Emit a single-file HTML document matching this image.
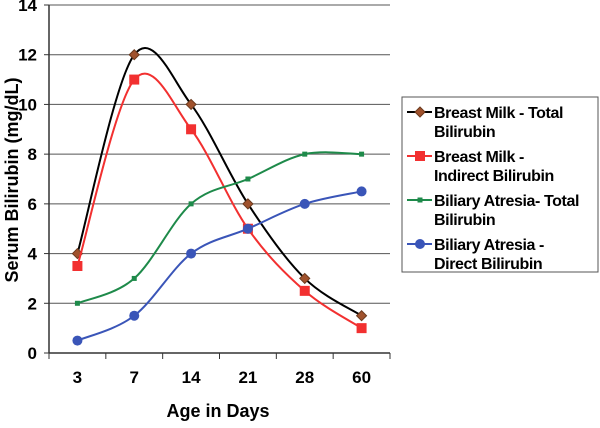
<!DOCTYPE html>
<html><head><meta charset="utf-8"><style>
body{margin:0;background:#fff;}
svg text{font-family:"Liberation Sans",Arial,sans-serif;font-weight:bold;}
</style></head><body>
<svg id="chart" width="600" height="423" viewBox="0 0 600 423"></svg>
<script>
const categories=["3","7","14","21","28","60"];
const bmTotal=[4,12,10,6,3,1.5];
const bmIndirect=[3.5,11,9,5,2.5,1];
const baTotal=[2,3,6,7,8,8];
const baDirect=[0.5,1.5,4,5,6,6.5];
const yTicks=[0,2,4,6,8,10,12,14];

const NS="http://www.w3.org/2000/svg";
const svg=document.getElementById('chart');
const L=49,R=390,T=5,B=353,yMax=14;
const step=(R-L)/categories.length;
const xs=i=>L+step*(i+0.5);
const ys=v=>B-(v/yMax)*(B-T);
function el(tag,attrs,parent){const e=document.createElementNS(NS,tag);for(const k in attrs)e.setAttribute(k,attrs[k]);(parent||svg).appendChild(e);return e;}

yTicks.forEach(v=>{
  if(v>0){const g=el('line',{x1:L,x2:R,y1:ys(v),y2:ys(v),stroke:'#555','stroke-width':1});
  
  }
  const tk=el('line',{x1:L-5,x2:L,y1:ys(v),y2:ys(v),stroke:'#333'});
  
  
  const t=el('text',{x:L-12,y:ys(v)+6,'text-anchor':'end','font-size':17});t.textContent=v;
  
  
});
const ya=el('line',{x1:L,x2:L,y1:T,y2:B,stroke:'#333','stroke-width':1.5});


const xa=el('line',{x1:L,x2:R,y1:B,y2:B,stroke:'#333','stroke-width':1.5});


for(let i=0;i<=categories.length;i++){const x=L+step*i;const tk=el('line',{x1:x,x2:x,y1:B,y2:B+6,stroke:'#333'});

}
categories.forEach((c,i)=>{const t=el('text',{x:xs(i),y:B+30,'text-anchor':'middle','font-size':17});t.textContent=c;

});
const xt=el('text',{x:218,y:417,'text-anchor':'middle','font-size':18});xt.textContent='Age in Days';


const yt=el('text',{x:0,y:0,'text-anchor':'middle','font-size':18,transform:'translate(18,180) rotate(-90)'});yt.textContent='Serum Bilirubin (mg/dL)';



function smooth(pts){let d=`M${pts[0][0]},${pts[0][1]}`;
  for(let i=0;i<pts.length-1;i++){const p0=pts[i-1]||pts[i],p1=pts[i],p2=pts[i+1],p3=pts[i+2]||p2;
    const c1=[p1[0]+(p2[0]-p0[0])/6,p1[1]+(p2[1]-p0[1])/6],c2=[p2[0]-(p3[0]-p1[0])/6,p2[1]-(p3[1]-p1[1])/6];
    d+=` C${c1[0]},${c1[1]} ${c2[0]},${c2[1]} ${p2[0]},${p2[1]}`;}
  return d;}
function marker(g,type,x,y,color){
  if(type==='diamond')return el('path',{d:`M${x},${y-5}L${x+5},${y}L${x},${y+5}L${x-5},${y}Z`,fill:'#a0522d',stroke:'#6b3a1e'},g);
  if(type==='square')return el('rect',{x:x-5,y:y-5,width:10,height:10,fill:color},g);
  if(type==='small')return el('rect',{x:x-2.5,y:y-2.5,width:5,height:5,fill:color},g);
  return el('circle',{cx:x,cy:y,r:5,fill:color},g);}
const series=[
 {name:'breast-milk-total',data:bmTotal,color:'#000',m:'diamond',label:['Breast Milk - Total','Bilirubin']},
 {name:'breast-milk-indirect',data:bmIndirect,color:'#f23030',m:'square',label:['Breast Milk -','Indirect Bilirubin']},
 {name:'biliary-atresia-total',data:baTotal,color:'#1e8a4a',m:'small',label:['Biliary Atresia- Total','Bilirubin']},
 {name:'biliary-atresia-direct',data:baDirect,color:'#3a55b8',m:'circle',label:['Biliary Atresia -','Direct Bilirubin']}];
series.forEach(s=>{
  const g=el('g',{});
  
  
  const pts=s.data.map((v,i)=>[xs(i),ys(v)]);
  const p=el('path',{d:smooth(pts),fill:'none',stroke:s.color,'stroke-width':2},g);
  
  
  pts.forEach(pt=>{const m=marker(g,s.m,pt[0],pt[1],s.color);
    
    });
});
const lg=el('g',{});


const lb=el('rect',{x:402,y:97,width:196,height:175,fill:'#fff',stroke:'#555'},lg);


series.forEach((s,i)=>{
  const y=112+i*44;
  const e=el('g',{},lg);
  
  
  el('line',{x1:407,x2:432,y1:y,y2:y,stroke:s.color,'stroke-width':2},e);
  marker(e,s.m,420,y,s.color);
  const t1=el('text',{x:434,y:y+6,'font-size':16,'letter-spacing':'-0.4'},e);t1.textContent=s.label[0];
  const t2=el('text',{x:434,y:y+25,'font-size':16,'letter-spacing':'-0.4'},e);t2.textContent=s.label[1];
});
</script>
</body></html>
